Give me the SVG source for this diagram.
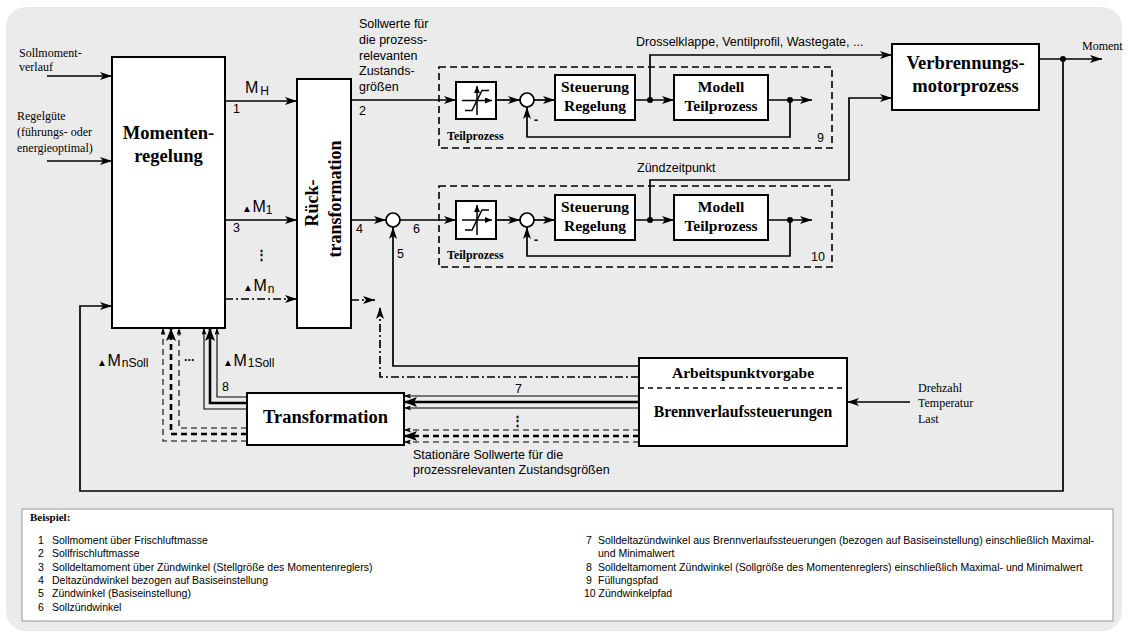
<svg xmlns="http://www.w3.org/2000/svg" width="1128" height="636" viewBox="0 0 1128 636">
<defs>
<style>
.bg{fill:#ebebeb}
.box{fill:#fff;stroke:#000;stroke-width:2}
.dbox{fill:none;stroke:#000;stroke-width:1.6;stroke-dasharray:7,4}
.ln{fill:none;stroke:#000;stroke-width:1.7}
.thin{fill:none;stroke:#000;stroke-width:1.1}
.thick{fill:none;stroke:#000;stroke-width:2.6}
.dash{stroke-dasharray:6,4}
.dd{stroke-dasharray:8,3,2,3}
.sum{fill:#fff;stroke:#000;stroke-width:1.7}
.dot{fill:#000}
.ic{fill:none;stroke:#000;stroke-width:1.5}
.tb{font-family:"Liberation Serif","Times New Roman",serif;font-weight:bold;fill:#000}
.ts{font-family:"Liberation Serif","Times New Roman",serif;font-size:12px;fill:#000}
.sa{font-family:"Liberation Sans",Arial,sans-serif;font-size:12.5px;fill:#000}
.lg{font-family:"Liberation Sans",Arial,sans-serif;font-size:10.5px;fill:#000}
.mid{text-anchor:middle}
</style>
<marker id="a" markerUnits="userSpaceOnUse" markerWidth="12" markerHeight="8" refX="12" refY="4" orient="auto"><path d="M0,0 L12,4 L0,8 L3,4 z" fill="#000"/></marker>
<marker id="as" markerUnits="userSpaceOnUse" markerWidth="7" markerHeight="5" refX="7" refY="2.5" orient="auto"><path d="M0,0 L7,2.5 L0,5 L1.5,2.5 z" fill="#000"/></marker>
<marker id="ab" markerUnits="userSpaceOnUse" markerWidth="13" markerHeight="10" refX="13" refY="5" orient="auto"><path d="M0,0 L13,5 L0,10 L3,5 z" fill="#000"/></marker>
<marker id="ai" markerUnits="userSpaceOnUse" markerWidth="7" markerHeight="6" refX="7" refY="3" orient="auto"><path d="M0,0 L7,3 L0,6 z" fill="#000"/></marker>
</defs>

<rect class="bg" x="6" y="7" width="1116" height="624" rx="20" ry="20"/>

<g id="connectors">
  <path class="ln" d="M47,76 H112" marker-end="url(#a)"/>
  <path class="ln" d="M47,161 H112" marker-end="url(#a)"/>
  <path class="ln" d="M225,101 H297" marker-end="url(#a)"/>
  <path class="ln" d="M225,220 H297" marker-end="url(#a)"/>
  <path class="ln dd" d="M225,299 H297" marker-end="url(#a)"/>
  <path class="ln" d="M351,100 H456" marker-end="url(#a)"/>
  <path class="ln" d="M496,100 H520" marker-end="url(#a)"/>
  <path class="ln" d="M534,100 H555" marker-end="url(#a)"/>
  <path class="ln" d="M635,100 H674" marker-end="url(#a)"/>
  <path class="ln" d="M650,100 V55 H892" marker-end="url(#a)"/>
  <path class="ln" d="M768,100 H812" marker-end="url(#a)"/>
  <path class="ln" d="M790,100 V137 H527 V107" marker-end="url(#a)"/>
  <path class="ln" d="M351,220 H386" marker-end="url(#a)"/>
  <path class="ln" d="M400,220 H456" marker-end="url(#a)"/>
  <path class="ln" d="M496,220 H520" marker-end="url(#a)"/>
  <path class="ln" d="M534,220 H555" marker-end="url(#a)"/>
  <path class="ln" d="M635,220 H674" marker-end="url(#a)"/>
  <path class="ln" d="M650,220 V180 H849 V98 H892" marker-end="url(#a)"/>
  <path class="ln" d="M768,220 H812" marker-end="url(#a)"/>
  <path class="ln" d="M790,220 V256 H527 V227" marker-end="url(#a)"/>
  <path class="ln" d="M639,366 H393 V227" marker-end="url(#a)"/>
  <path class="ln dd" d="M351,300 H375" marker-end="url(#a)"/>
  <path class="ln dd" d="M639,377 H380 V307" marker-end="url(#a)"/>
  <path class="ln" d="M1039,59 H1102" marker-end="url(#a)"/>
  <path class="ln" d="M1063,59 V491 H80 V306 H112" marker-end="url(#a)"/>
  <path class="ln" d="M910,402 H847" marker-end="url(#a)"/>
  <path class="thin" d="M639,396 H404" marker-end="url(#as)"/>
  <path class="thick" d="M639,402 H404" marker-end="url(#ab)"/>
  <path class="thin" d="M639,408 H404" marker-end="url(#as)"/>
  <path class="thin dash" d="M639,430 H404" marker-end="url(#as)"/>
  <path class="thick dash" d="M639,436 H404" marker-end="url(#ab)"/>
  <path class="thin dash" d="M639,442 H404" marker-end="url(#as)"/>
  <path class="thin" d="M247,397 H217 V328" marker-end="url(#as)"/>
  <path class="thick" d="M247,403 H210 V328" marker-end="url(#ab)"/>
  <path class="thin" d="M247,409 H204 V328" marker-end="url(#as)"/>
  <path class="thin dash" d="M247,428 H179 V328" marker-end="url(#as)"/>
  <path class="thick dash" d="M247,434 H171 V328" marker-end="url(#ab)"/>
  <path class="thin dash" d="M247,441 H163 V328" marker-end="url(#as)"/>
  <circle class="dot" cx="650" cy="100" r="3"/>
  <circle class="dot" cx="790" cy="100" r="3"/>
  <circle class="dot" cx="650" cy="220" r="3"/>
  <circle class="dot" cx="790" cy="220" r="3"/>
  <circle class="dot" cx="1063" cy="59" r="3"/>
</g>

<g id="teilprozess9">
  <rect class="dbox" x="439" y="67" width="393" height="81"/>
  <text class="tb" x="447" y="140" font-size="12">Teilprozess</text>
  <text class="sa" x="817" y="142">9</text>
</g>
<g id="teilprozess10">
  <rect class="dbox" x="439" y="186" width="393" height="81"/>
  <text class="tb" x="447" y="259" font-size="12">Teilprozess</text>
  <text class="sa" x="811" y="261">10</text>
</g>

<g id="momentenregelung">
  <rect class="box" x="112" y="57" width="113" height="271"/>
  <text class="tb mid" x="168.5" y="139" font-size="18.5">Momenten-</text>
  <text class="tb mid" x="168.5" y="162" font-size="18.5">regelung</text>
</g>

<g id="ruecktransformation">
  <rect class="box" x="297" y="79" width="54" height="249"/>
  <text class="tb mid" transform="translate(318,203) rotate(-90)" font-size="18">Rück-</text>
  <text class="tb mid" transform="translate(341,199) rotate(-90)" font-size="18">transformation</text>
</g>

<g id="limiter1">
  <rect class="box" x="456" y="82" width="40" height="37"/>
  <path class="ic" d="M477,115 V86" marker-end="url(#ai)"/>
  <path class="ic" d="M462,100.5 H492" marker-end="url(#ai)"/>
  <path class="ic" d="M465,110.5 H472 L482,90.5 H489"/>
</g>
<g id="limiter2">
  <rect class="box" x="456" y="201" width="40" height="38"/>
  <path class="ic" d="M477,235 V205" marker-end="url(#ai)"/>
  <path class="ic" d="M462,220 H492" marker-end="url(#ai)"/>
  <path class="ic" d="M465,230 H472 L482,210 H489"/>
</g>

<g id="sum0"><circle class="sum" cx="393" cy="220" r="7"/></g>
<g id="sum1">
  <circle class="sum" cx="527" cy="100" r="7"/>
  <text class="sa" x="534" y="124" font-weight="bold" font-size="13">-</text>
</g>
<g id="sum2">
  <circle class="sum" cx="527" cy="220" r="7"/>
  <text class="sa" x="534" y="244" font-weight="bold" font-size="13">-</text>
</g>

<g id="steuerung1">
  <rect class="box" x="555" y="75" width="80" height="45"/>
  <text class="tb mid" x="595" y="92" font-size="15.5">Steuerung</text>
  <text class="tb mid" x="595" y="111" font-size="15.5">Regelung</text>
</g>
<g id="modell1">
  <rect class="box" x="674" y="75" width="94" height="45"/>
  <text class="tb mid" x="721" y="92" font-size="15.5">Modell</text>
  <text class="tb mid" x="721" y="111" font-size="15.5">Teilprozess</text>
</g>
<g id="steuerung2">
  <rect class="box" x="555" y="195" width="80" height="45"/>
  <text class="tb mid" x="595" y="212" font-size="15.5">Steuerung</text>
  <text class="tb mid" x="595" y="231" font-size="15.5">Regelung</text>
</g>
<g id="modell2">
  <rect class="box" x="674" y="195" width="94" height="45"/>
  <text class="tb mid" x="721" y="212" font-size="15.5">Modell</text>
  <text class="tb mid" x="721" y="231" font-size="15.5">Teilprozess</text>
</g>

<g id="verbrennungsmotorprozess">
  <rect class="box" x="892" y="44" width="147" height="66"/>
  <text class="tb mid" x="965.5" y="69" font-size="18.5">Verbrennungs-</text>
  <text class="tb mid" x="965.5" y="92" font-size="18.5">motorprozess</text>
</g>

<g id="arbeitspunktvorgabe">
  <rect class="box" x="639" y="358" width="208" height="88"/>
  <line x1="639" y1="388" x2="847" y2="388" stroke="#000" stroke-width="1.4" stroke-dasharray="5,4"/>
  <text class="tb mid" x="743" y="378" font-size="15.5">Arbeitspunktvorgabe</text>
  <text class="tb mid" x="743" y="417" font-size="15.8">Brennverlaufssteuerungen</text>
</g>

<g id="transformation">
  <rect class="box" x="247" y="393" width="157" height="52"/>
  <text class="tb mid" x="325.5" y="423" font-size="18.5">Transformation</text>
</g>

<g id="labels">
  <text class="ts" x="19" y="57">Sollmoment-</text>
  <text class="ts" x="19" y="71">verlauf</text>
  <text class="ts" x="17" y="120">Regelgüte</text>
  <text class="ts" x="17" y="136">(führungs- oder</text>
  <text class="ts" x="17" y="152">energieoptimal)</text>

  <text class="sa" x="245" y="93"><tspan font-size="16">M</tspan><tspan font-size="12" dx="2" dy="2">H</tspan></text>
  <text class="sa" x="233" y="113" font-size="12">1</text>
  <text class="sa" x="242" y="212"><tspan font-size="10">▲</tspan><tspan font-size="16" dx="0.5">M</tspan><tspan font-size="12" dy="2">1</tspan></text>
  <text class="sa" x="233" y="232" font-size="12">3</text>
  <text class="sa mid" x="261" y="259" font-size="19" font-weight="bold">⋮</text>
  <text class="sa" x="243" y="291"><tspan font-size="10">▲</tspan><tspan font-size="16" dx="0.5">M</tspan><tspan font-size="12" dx="1" dy="2">n</tspan></text>

  <text class="sa" x="359" y="28">Sollwerte für</text>
  <text class="sa" x="359" y="44">die prozess-</text>
  <text class="sa" x="359" y="59.5">relevanten</text>
  <text class="sa" x="359" y="75">Zustands-</text>
  <text class="sa" x="359" y="90.5">größen</text>
  <text class="sa" x="359" y="115">2</text>
  <text class="sa" x="356" y="233">4</text>
  <text class="sa" x="413" y="233">6</text>
  <text class="sa" x="397" y="258">5</text>

  <text class="sa" x="636" y="46">Drosselklappe, Ventilprofil, Wastegate, ...</text>
  <text class="sa" x="637" y="172">Zündzeitpunkt</text>
  <text class="ts" x="1082" y="50">Moment</text>
  <text class="ts" x="918" y="392">Drehzahl</text>
  <text class="ts" x="918" y="407">Temperatur</text>
  <text class="ts" x="918" y="423">Last</text>

  <text class="sa" x="515" y="393">7</text>
  <text class="sa mid" x="517" y="425" font-size="13" font-weight="bold">⋮</text>
  <text class="sa" x="413" y="459">Stationäre Sollwerte für die</text>
  <text class="sa" x="413" y="474">prozessrelevanten Zustandsgrößen</text>

  <text class="sa" x="222" y="391">8</text>
  <text class="sa" x="223" y="366"><tspan font-size="10">▲</tspan><tspan font-size="16" dx="0.5">M</tspan><tspan font-size="12" dx="1" dy="1">1Soll</tspan></text>
  <text class="sa" x="97" y="366"><tspan font-size="10">▲</tspan><tspan font-size="16" dx="0.5">M</tspan><tspan font-size="12" dx="1" dy="1">nSoll</tspan></text>
  <text class="sa" x="184" y="361" font-size="16" font-weight="bold">...</text>
</g>

<g id="legend">
  <rect x="22" y="509" width="1091" height="112" fill="#fff" stroke="#999" stroke-width="1"/>
  <text class="tb" x="30" y="521" font-size="11">Beispiel:</text>
  <text class="lg" y="544"><tspan x="38">1</tspan><tspan x="52">Sollmoment über Frischluftmasse</tspan></text>
  <text class="lg" y="557"><tspan x="38">2</tspan><tspan x="52">Sollfrischluftmasse</tspan></text>
  <text class="lg" y="571"><tspan x="38">3</tspan><tspan x="52">Solldeltamoment über Zündwinkel (Stellgröße des Momentenreglers)</tspan></text>
  <text class="lg" y="584"><tspan x="38">4</tspan><tspan x="52">Deltazündwinkel bezogen auf Basiseinstellung</tspan></text>
  <text class="lg" y="597"><tspan x="38">5</tspan><tspan x="52">Zündwinkel (Basiseinstellung)</tspan></text>
  <text class="lg" y="611"><tspan x="38">6</tspan><tspan x="52">Sollzündwinkel</tspan></text>
  <text class="lg" y="544"><tspan x="586">7</tspan><tspan x="598">Solldeltazündwinkel aus Brennverlaufssteuerungen (bezogen auf Basiseinstellung) einschließlich Maximal-</tspan></text>
  <text class="lg" x="598" y="557">und Minimalwert</text>
  <text class="lg" y="571"><tspan x="586">8</tspan><tspan x="598">Solldeltamoment Zündwinkel (Sollgröße des Momentenreglers) einschließlich Maximal- und Minimalwert</tspan></text>
  <text class="lg" y="584"><tspan x="586">9</tspan><tspan x="598">Füllungspfad</tspan></text>
  <text class="lg" x="584" y="597">10 Zündwinkelpfad</text>
</g>
</svg>
